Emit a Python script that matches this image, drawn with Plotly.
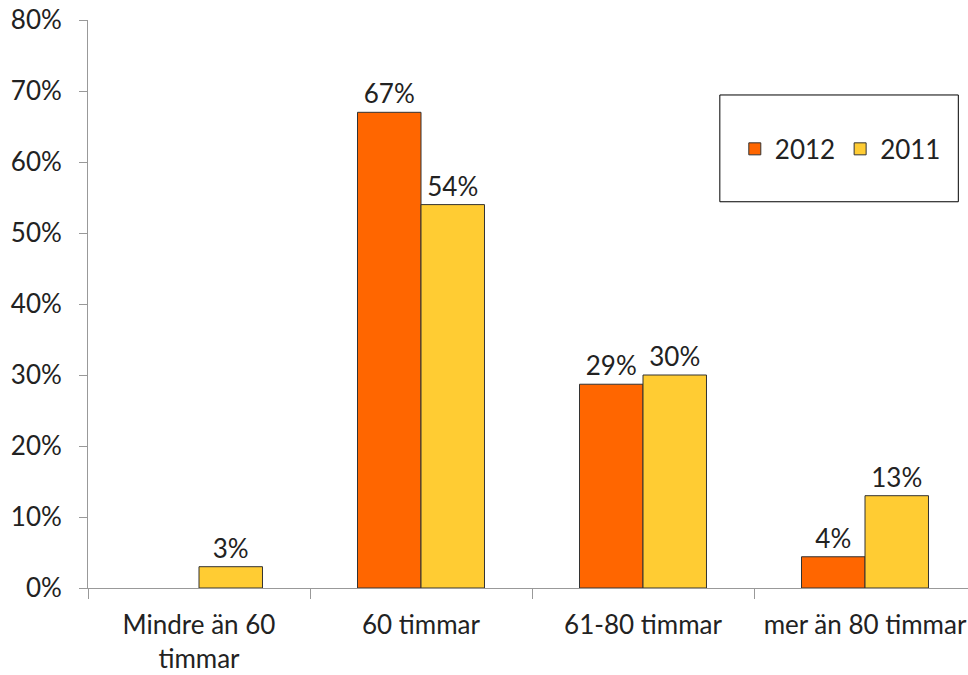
import plotly.graph_objects as go

categories = ["Mindre än 60<br>timmar", "60 timmar", "61-80 timmar", "mer än 80 timmar"]
series_2012 = [None, 67, 28.7, 4.4]
series_2011 = [3, 54, 30, 13]
y_ticks = [0, 10, 20, 30, 40, 50, 60, 70, 80]
y_tick_text = [f"{v}%" for v in y_ticks]

FONT = "Lato"
FS = 26
TXT = "#222222"

def labels(vals):
    return [f"{round(v)}%" if v else "" for v in vals]

fig = go.Figure()
fig.add_trace(go.Bar(
    x=categories, y=series_2012, name="2012",
    marker=dict(color="#FF6600", line=dict(color="#333333", width=1)),
    text=labels(series_2012), textposition="outside", cliponaxis=False,
    textfont=dict(family=FONT, size=FS, color=TXT),
))
fig.add_trace(go.Bar(
    x=categories, y=series_2011, name="2011",
    marker=dict(color="#FFCC33", line=dict(color="#333333", width=1)),
    text=labels(series_2011), textposition="outside", cliponaxis=False,
    textfont=dict(family=FONT, size=FS, color=TXT),
))

fig.update_layout(
    width=968, height=675,
    margin=dict(l=88, r=0, t=20, b=87, autoexpand=False),
    paper_bgcolor="white", plot_bgcolor="white",
    barmode="group", bargap=0.428, bargroupgap=0,
    font=dict(family=FONT, size=FS, color=TXT),
    showlegend=True,
    legend=dict(orientation="h", x=0.735, y=0.773, xanchor="left", yanchor="middle",
                bgcolor="rgba(0,0,0,0)", font=dict(family=FONT, size=FS, color=TXT),
                traceorder="normal"),
    shapes=[dict(type="rect", xref="paper", yref="paper",
                 x0=0.718, x1=0.989, y0=0.680, y1=0.868,
                 line=dict(color="black", width=1), fillcolor="rgba(0,0,0,0)")],
)
fig.update_xaxes(
    range=[-0.5, 3.5 - 8 / 222], showgrid=False, automargin=False,
    showline=True, linecolor="#999999", linewidth=1,
    ticks="outside", tickson="boundaries", ticklen=10, tickcolor="#999999",
    ticklabelstandoff=14, ticklabeloverflow="allow",
    tickfont=dict(family=FONT, size=FS, color=TXT),
)
fig.update_yaxes(
    range=[0, 80], tickmode="array", tickvals=y_ticks, ticktext=y_tick_text, showgrid=False,
    automargin=False,
    showline=True, linecolor="#999999", linewidth=1,
    ticks="outside", ticklen=8, tickcolor="#999999",
    ticklabelstandoff=12, ticklabeloverflow="allow",
    tickfont=dict(family=FONT, size=FS, color=TXT), zeroline=False,
)

fig.write_html(
    "out.html",
    config={"displayModeBar": False},
    post_script="document.body.style.margin='0';document.body.style.overflow='hidden';",
)
